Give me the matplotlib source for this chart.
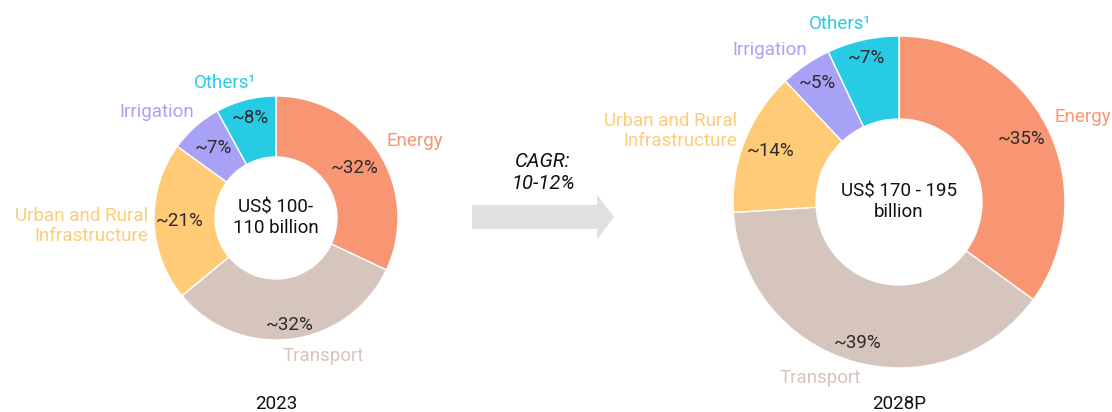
import numpy as np
import matplotlib.pyplot as plt
from matplotlib.patches import FancyArrow

plt.rcParams['font.family'] = ['Roboto', 'DejaVu Sans']

# data
categories = ['Energy', 'Transport', 'Urban and Rural\nInfrastructure', 'Irrigation', 'Others¹']
colors = ['#F89573', '#D6C5BD', '#FFCB77', '#A7A2F5', '#27CBE4']
share_2023 = [32, 32, 21, 7, 8]
share_2028 = [35, 39, 14, 5, 7]
pct_2023 = ['~32%', '~32%', '~21%', '~7%', '~8%']
pct_2028 = ['~35%', '~39%', '~14%', '~5%', '~7%']
center_2023 = 'US$ 100-\n110 billion'
center_2028 = 'US$ 170 - 195\nbillion'
years = ['2023', '2028P']
cagr_text = 'CAGR:\n10-12%'

W, H = 1112, 412
fig = plt.figure(figsize=(W / 100, H / 100), dpi=100)

# full-figure pixel axes for free text and the arrow
bg = fig.add_axes([0, 0, 1, 1])
bg.set_xlim(0, W)
bg.set_ylim(H, 0)
bg.axis('off')


def donut(cx, cy, r, values, pcts, pct_r, center_text):
    ax = fig.add_axes([(cx - r) / W, (H - cy - r) / H, 2 * r / W, 2 * r / H])
    wedges, _ = ax.pie(values, colors=colors, startangle=90, counterclock=False,
                       radius=1, wedgeprops=dict(width=0.5, edgecolor='white', linewidth=1))
    ax.set_xlim(-1, 1)
    ax.set_ylim(-1, 1)
    ax.set_aspect('equal')
    ax.axis('off')
    for w, p, rr in zip(wedges, pcts, pct_r):
        ang = np.deg2rad((w.theta1 + w.theta2) / 2)
        ax.text(rr * np.cos(ang), rr * np.sin(ang), p, ha='center', va='center',
                fontsize=13.5, color='#2b2b2b')
    ax.text(0, 0, center_text, ha='center', va='center', fontsize=13.5,
            color='#111111', linespacing=1.2)
    return ax


donut(276, 218, 122, share_2023, pct_2023, [0.76, 0.88, 0.79, 0.77, 0.85], center_2023)
donut(899, 202, 166, share_2028, pct_2028, [0.83, 0.885, 0.83, 0.87, 0.89], center_2028)

# category labels, left donut
lbl_kw = dict(fontsize=13.5, va='center')
bg.text(386, 141, categories[0], color=colors[0], ha='left', **lbl_kw)
bg.text(323, 356, categories[1], color=colors[1], ha='center', **lbl_kw)
bg.text(148, 226, categories[2], color=colors[2], ha='right', multialignment='right',
        linespacing=1.2, **lbl_kw)
bg.text(157, 112, categories[3], color=colors[3], ha='center', **lbl_kw)
bg.text(225, 83, categories[4], color=colors[4], ha='center', **lbl_kw)
bg.text(276, 404, years[0], color='#111111', ha='center', **lbl_kw)

# category labels, right donut
bg.text(1055, 117, categories[0], color=colors[0], ha='left', **lbl_kw)
bg.text(820, 378, categories[1], color=colors[1], ha='center', **lbl_kw)
bg.text(737, 131, categories[2], color=colors[2], ha='right', multialignment='right',
        linespacing=1.2, **lbl_kw)
bg.text(770, 50, categories[3], color=colors[3], ha='center', **lbl_kw)
bg.text(840, 24, categories[4], color=colors[4], ha='center', **lbl_kw)
bg.text(899, 404, years[1], color='#111111', ha='center', **lbl_kw)

# growth arrow
bg.add_patch(FancyArrow(472, 217, 142, 0, width=24, head_width=45, head_length=17,
                        length_includes_head=True, color='#E0E0E0', lw=0))
bg.text(543, 172, cagr_text, ha='center', va='center', fontsize=14.5, style='italic',
        color='#111111', linespacing=1.2)

fig.savefig('out.png', dpi=100, facecolor='white')
